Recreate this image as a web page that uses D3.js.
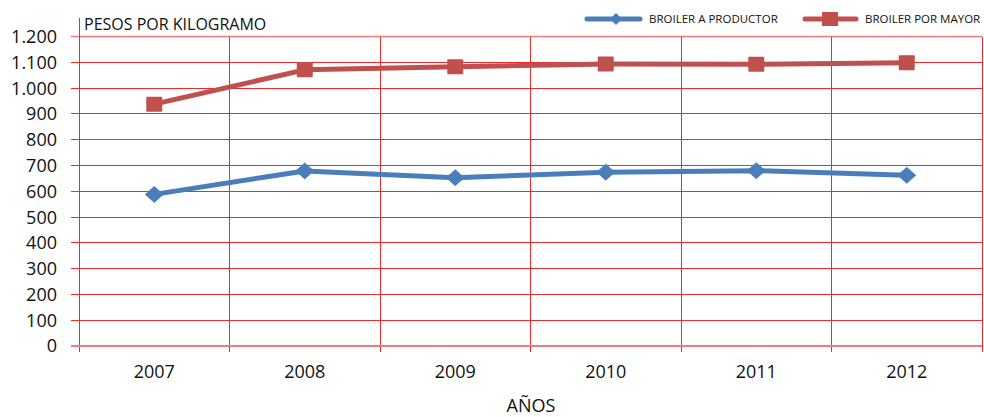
<!DOCTYPE html>
<html><head><meta charset="utf-8">
<script src="https://cdn.jsdelivr.net/npm/d3@7"></script>
<style>
html,body{margin:0;padding:0;background:#fff;}
svg{display:block;font-family:"Open Sans",sans-serif;}
</style></head>
<body><svg id="c" width="984" height="417"></svg>
<script>
const years = ["2007","2008","2009","2010","2011","2012"];
const productor = [588, 679, 653, 674, 680, 662];
const mayor = [938, 1071, 1083, 1094, 1093, 1099];
const yTicks = [0,100,200,300,400,500,600,700,800,900,1000,1100,1200];
const seriesNames = ["BROILER A PRODUCTOR","BROILER POR MAYOR"];
const yTitle = "PESOS POR KILOGRAMO";
const xTitle = "AÑOS";

const svg = d3.select("#c");
const L = 79, R = 982, T = 36.6, B = 346;
const x = d3.scaleBand().domain(years).range([L, R]).padding(0);
const y = d3.scaleLinear().domain([0, 1200]).range([B, T]);
const fmt = v => d3.format(",")(v).replace(/,/g, ".");
const grid = "#ee2a2e", gridLight = "#f27a7c";

svg.append("g").selectAll("line").data(yTicks.filter(d => d > 0 && d < 1200)).join("line")
  .attr("x1", L - 8).attr("x2", R).attr("y1", d => y(d)).attr("y2", d => y(d))
  .attr("stroke", grid).attr("stroke-width", 1).attr("shape-rendering", "crispEdges");
svg.append("line").attr("x1", L - 8).attr("x2", R).attr("y1", y(1200)).attr("y2", y(1200))
  .attr("stroke", gridLight).attr("stroke-width", 1.5);
const bounds = years.map(d => x(d)).concat([x(years[years.length-1]) + x.bandwidth()]);
svg.append("g").selectAll("line").data(bounds).join("line")
  .attr("x1", d => d).attr("x2", d => d)
  .attr("y1", (d, i) => i === 0 ? 18 : T).attr("y2", B + 6)
  .attr("stroke", grid).attr("stroke-width", 1).attr("shape-rendering", "crispEdges");
svg.append("line").attr("x1", L - 8).attr("x2", R).attr("y1", y(0)).attr("y2", y(0))
  .attr("stroke", gridLight).attr("stroke-width", 2);

svg.append("g").selectAll("text").data(yTicks).join("text")
  .attr("x", 57).attr("y", d => y(d)).attr("dy", "0.36em")
  .attr("text-anchor", "end").attr("font-size", 18).attr("fill", "#111")
  .text(fmt);
svg.append("g").selectAll("text").data(years).join("text")
  .attr("x", d => x(d) + x.bandwidth() / 2).attr("y", 378)
  .attr("text-anchor", "middle").attr("font-size", 18).attr("fill", "#111")
  .text(d => d);
svg.append("text").attr("x", 84).attr("y", 30).attr("font-size", 16).attr("fill", "#111").text(yTitle);
svg.append("text").attr("x", 531).attr("y", 412).attr("text-anchor", "middle").attr("font-size", 18).attr("fill", "#111").text(xTitle);

const blue = "#4a7ebb", red = "#c0504d";
const line = d3.line().x((d, i) => x(years[i]) + x.bandwidth() / 2).y(d => y(d));
const diamondPath = (w, h) => `M0,${-h}L${w},0L0,${h}L${-w},0Z`;

svg.append("path").datum(mayor).attr("d", line).attr("fill", "none").attr("stroke", red).attr("stroke-width", 5).attr("stroke-linejoin", "round");
svg.append("g").selectAll("rect").data(mayor).join("rect")
  .attr("x", (d, i) => x(years[i]) + x.bandwidth() / 2 - 8).attr("y", d => y(d) - 7.5)
  .attr("width", 16).attr("height", 15).attr("rx", 1).attr("fill", red);

svg.append("path").datum(productor).attr("d", line).attr("fill", "none").attr("stroke", blue).attr("stroke-width", 5).attr("stroke-linejoin", "round");
svg.append("g").selectAll("path").data(productor).join("path")
  .attr("transform", (d, i) => `translate(${x(years[i]) + x.bandwidth() / 2},${y(d)})`)
  .attr("d", diamondPath(9, 8)).attr("fill", blue)
  .attr("stroke", blue).attr("stroke-width", 0.8).attr("stroke-linejoin", "round");

const lg = svg.append("g");
lg.append("line").attr("x1", 587).attr("x2", 640).attr("y1", 19).attr("y2", 19).attr("stroke", blue).attr("stroke-width", 5).attr("stroke-linecap", "round");
lg.append("path").attr("transform", "translate(616,19)").attr("d", diamondPath(6, 6)).attr("fill", blue);
lg.append("text").attr("x", 649).attr("y", 23).attr("font-size", 11.5).attr("fill", "#111").text(seriesNames[0]);
lg.append("line").attr("x1", 805).attr("x2", 856).attr("y1", 19).attr("y2", 19).attr("stroke", red).attr("stroke-width", 5).attr("stroke-linecap", "round");
lg.append("rect").attr("x", 822).attr("y", 12).attr("width", 16).attr("height", 14).attr("fill", red);
lg.append("text").attr("x", 865).attr("y", 23).attr("font-size", 11.5).attr("fill", "#111").text(seriesNames[1]);
</script></body></html>
